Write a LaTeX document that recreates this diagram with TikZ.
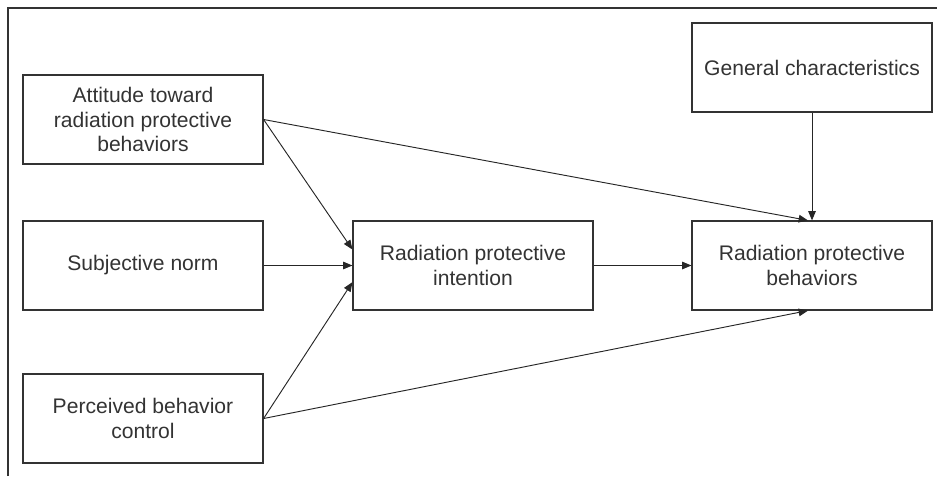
\documentclass[tikz,border=0pt]{standalone}
\usepackage{fontspec}
\setmainfont{Liberation Sans}
\usetikzlibrary{arrows.meta}

\begin{document}
\begin{tikzpicture}[x=0.03cm, y=-0.03cm,
  every node/.style={font=\fontsize{18}{21.3}\selectfont, text=black!80},
  box/.style={draw=black!80, line width=1pt, minimum width=7.2cm, minimum height=2.67cm, align=center, inner sep=2pt},
  link/.style={draw=black!85, line width=0.8pt, -{Triangle[length=8pt, width=6.5pt]}}]
  \useasboundingbox (0,0) rectangle (937,476);
  % frame (top and left only)
  \draw[black!80, line width=1pt] (8,476) -- (8,8) -- (937,8);
  % boxes
  \node[box] (att) at (143,119.5) {Attitude toward\\radiation protective\\behaviors};
  \node[box] (norm) at (143,265.5) {Subjective norm};
  \node[box] (pbc) at (143,418.5) {Perceived behavior\\control};
  \node[box] (intent) at (473,265.5) {Radiation protective\\intention};
  \node[box] (behav) at (812,265.5) {Radiation protective\\behaviors};
  \node[box] (general) at (812,67.5) {General characteristics};
  % paths
  \draw[link] (att.east) -- ([yshift=0.48cm]intent.west);
  \draw[link] (norm.east) -- (intent.west);
  \draw[link] (pbc.east) -- ([yshift=-0.5cm]intent.west);
  \draw[link] (intent.east) -- (behav.west);
  \draw[link] (general.south) -- (behav.north);
  \draw[link] (att.east) -- ([xshift=-0.12cm]behav.north);
  \draw[link] (pbc.east) -- ([xshift=-0.12cm]behav.south);
\end{tikzpicture}
\end{document}
